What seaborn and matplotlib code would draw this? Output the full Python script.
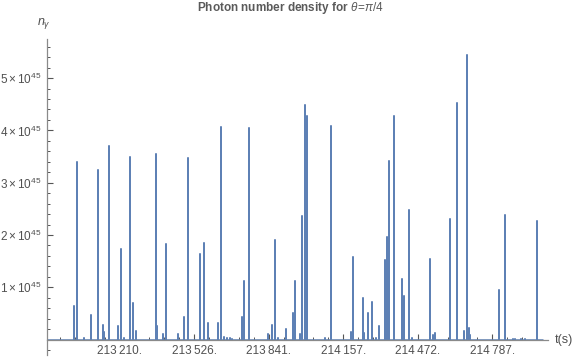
import numpy as np
import pandas as pd
import matplotlib
matplotlib.use('Agg')
import matplotlib.pyplot as plt
import seaborn as sns
from matplotlib.ticker import FixedLocator


# spike times (s) and peak photon number density (in units of 1e45)
t_spike = [213017, 213031, 213061, 213091, 213119, 213139, 213144, 213166,
           213204, 213216, 213228, 213254, 213268, 213278, 213363, 213370,
           213394, 213407, 213457, 213482, 213498, 213549, 213566, 213583,
           213628, 213639, 213651, 213665, 213679, 213687, 213727, 213738,
           213756, 213837, 213855, 213866, 213880, 213914, 213944, 213952,
           213972, 213981, 213993, 214003, 214079, 214105, 214189, 214198,
           214240, 214245, 214260, 214279, 214296, 214306, 214332, 214341,
           214349, 214370, 214405, 214413, 214435, 214448, 214522, 214537,
           214545, 214608, 214636, 214666, 214681, 214687, 214693, 214815,
           214839, 214876, 214883, 214908, 214925, 214975]
n_spike = [0.64, 3.40, 0.03, 0.48, 3.25, 0.28, 0.15, 3.70,
           0.27, 1.73, 0.03, 3.50, 0.70, 0.16, 3.54, 0.26,
           0.11, 1.83, 0.10, 0.43, 3.47, 1.64, 1.85, 0.32,
           0.32, 4.07, 0.05, 0.03, 0.03, 0.02, 0.43, 1.12,
           4.05, 0.11, 0.28, 1.90, 0.04, 0.20, 0.50, 1.12,
           0.11, 2.36, 4.48, 4.28, 0.03, 4.08, 0.15, 1.58,
           0.80, 0.12, 0.51, 0.71, 0.04, 0.26, 1.53, 1.97,
           3.41, 4.28, 1.16, 0.83, 2.47, 0.03, 1.55, 0.09,
           0.13, 2.31, 4.52, 0.17, 5.44, 0.22, 0.08, 0.94,
           2.38, 0.02, 0.02, 0.02, 0.02, 2.27]

t_start, t_end = 212903, 215000
x_ticks = [213210.4, 213525.8, 213841.2, 214156.6, 214472.0, 214787.4]
x_labels = ['213\u2009210.', '213\u2009526.', '213\u2009841.',
            '214\u2009157.', '214\u2009472.', '214\u2009787.']
y_ticks = [1, 2, 3, 4, 5]
y_labels = [r'$%d\times10^{45}$' % v for v in y_ticks]

# build the polyline: baseline at zero with a vertical spike at each event
tt = [t_start]
nn = [0.0]
for t, n in zip(t_spike, n_spike):
    tt += [t, t, t]
    nn += [0.0, n, 0.0]
tt.append(t_end)
nn.append(0.0)
df = pd.DataFrame({'t': tt, 'n': nn})

sns.set_style('ticks')
plt.rcParams['font.family'] = ['Liberation Sans', 'DejaVu Sans']
plt.rcParams['mathtext.fontset'] = 'custom'
plt.rcParams['mathtext.rm'] = 'Liberation Sans'
plt.rcParams['mathtext.it'] = 'Liberation Sans:italic'
plt.rcParams['mathtext.bf'] = 'Liberation Sans:bold'

grey = '#8a8a8a'
text_c = '#505050'

fig = plt.figure(figsize=(5.76, 3.59), dpi=100)
ax = fig.add_axes([47 / 576, 4 / 359, 501.3 / 576, 315.7 / 359])

sns.lineplot(data=df, x='t', y='n', sort=False, estimator=None,
             color='#5E81B5', linewidth=1.1, ax=ax)

ax.set_xlim(t_start, 215024)
ax.set_ylim(-0.294, 5.742)

for s in ['top', 'right']:
    ax.spines[s].set_visible(False)
ax.spines['bottom'].set_position(('data', 0))
ax.spines['left'].set_color(grey)
ax.spines['bottom'].set_color(grey)
ax.spines['left'].set_linewidth(0.9)
ax.spines['bottom'].set_linewidth(0.9)

ax.set_xticks(x_ticks)
ax.set_xticklabels(x_labels)
minor_x = [x_ticks[0] + k * 63.08 for k in range(-4, 29)]
minor_x = [v for v in minor_x if t_start < v < 215024]
ax.xaxis.set_minor_locator(FixedLocator(minor_x))
ax.set_yticks(y_ticks)
ax.set_yticklabels(y_labels)
minor_y = [round(-0.2 + 0.2 * k, 2) for k in range(30)]
ax.yaxis.set_minor_locator(FixedLocator(minor_y))

ax.tick_params(axis='both', which='major', direction='in', length=4,
               width=0.8, color='#555555', labelsize=8.5, labelcolor=text_c)
ax.tick_params(axis='both', which='minor', direction='in', length=2.5,
               width=0.7, color='#555555')
ax.tick_params(axis='x', which='major', pad=4)
ax.tick_params(axis='y', which='major', pad=4)
ax.set_xlabel('')
ax.set_ylabel('')

ax.annotate('t(s)', xy=(1, 0), xycoords=('axes fraction', 'data'),
            xytext=(5, 0), textcoords='offset points', ha='left',
            va='center', fontsize=9, color=text_c)
fig.text(44 / 576, 1 - 24 / 359, r'$n_\gamma$', ha='center', va='center',
         fontsize=9, color=text_c)
fig.text(290 / 576, 1 - 7.5 / 359,
         r'Photon number density for $\theta\!=\!\pi/4$',
         ha='center', va='center', fontsize=8.5, fontweight='bold',
         color='#5a5a5a')

fig.savefig('out.png', dpi=100)
